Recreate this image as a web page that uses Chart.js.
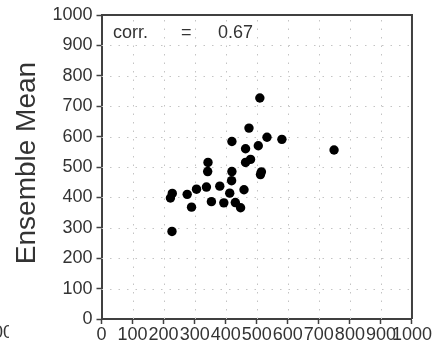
<!DOCTYPE html>
<html>
<head>
<meta charset="utf-8">
<script src="https://cdn.jsdelivr.net/npm/chart.js@4/dist/chart.umd.min.js"></script>
<style>
  html, body { margin: 0; padding: 0; background: #fff; }
  #wrap { width: 432px; height: 341px; position: relative; }
</style>
</head>
<body>
<div id="wrap"><canvas id="c" width="432" height="341"></canvas></div>
<script>
// Observed values (x) against ensemble-mean values (y)
const observed = [227, 222, 228, 276, 290, 306, 338, 342, 343, 354,
                  381, 394, 413, 419, 420, 420, 431, 448, 459, 464,
                  464, 475, 480, 505, 510, 512, 515, 533, 581, 749];
const ensembleMean = [288, 398, 413, 410, 368, 427, 434, 485, 515, 386,
                      437, 382, 414, 455, 485, 584, 383, 366, 425, 515,
                      560, 628, 525, 570, 727, 475, 484, 598, 591, 556];
const tickValues = [0, 100, 200, 300, 400, 500, 600, 700, 800, 900, 1000];
const tickLabels = ['0', '100', '200', '300', '400', '500', '600', '700', '800', '900', '1000'];
const corrLabel = ['corr.', '=', '0.67'];
const yTitle = 'Ensemble Mean';

const points = observed.map((x, i) => ({ x: x, y: ensembleMean[i] }));
const FONT = '"Liberation Sans", Arial, sans-serif';
const AXIS_COLOR = '#404040';
const TEXT_COLOR = '#333333';
const labelFor = v => { const i = tickValues.indexOf(v); return i >= 0 ? tickLabels[i] : ''; };

// Dotted grid, frame, correlation note and axis title
const decorations = {
  id: 'decorations',
  beforeDatasetsDraw(chart) {
    const { ctx, chartArea: a, scales: { x, y } } = chart;
    ctx.save();
    ctx.strokeStyle = '#c4c4c4';
    ctx.lineWidth = 1;
    ctx.setLineDash([1.5, 7]);
    tickValues.forEach(v => {
      const px = Math.round(x.getPixelForValue(v)) + 0.5;
      const py = Math.round(y.getPixelForValue(v)) + 0.5;
      if (v > 0 && v < 1000) {
        ctx.beginPath(); ctx.moveTo(px, a.bottom); ctx.lineTo(px, a.top); ctx.stroke();
        ctx.beginPath(); ctx.moveTo(a.left, py); ctx.lineTo(a.right, py); ctx.stroke();
      }
    });
    ctx.restore();
  },
  afterDraw(chart) {
    const { ctx, chartArea: a } = chart;
    ctx.save();
    // top and right sides of the frame
    ctx.strokeStyle = AXIS_COLOR;
    ctx.lineWidth = 2;
    ctx.beginPath();
    ctx.moveTo(a.left, a.top);
    ctx.lineTo(a.right, a.top);
    ctx.lineTo(a.right, a.bottom);
    ctx.stroke();

    // correlation note
    ctx.fillStyle = TEXT_COLOR;
    ctx.font = '18px ' + FONT;
    ctx.textBaseline = 'alphabetic';
    ctx.textAlign = 'left';
    ctx.fillText(corrLabel[0], 113, 38);
    ctx.fillText(corrLabel[1], 181, 38);
    ctx.fillText(corrLabel[2], 218, 38);

    // y axis title
    ctx.font = '28px ' + FONT;
    ctx.textAlign = 'center';
    ctx.textBaseline = 'middle';
    ctx.translate(27, 163);
    ctx.rotate(-Math.PI / 2);
    ctx.fillText(yTitle, 0, 0);
    ctx.restore();

    // tick label of the neighbouring panel, cut off at the left edge
    ctx.save();
    ctx.beginPath();
    ctx.rect(0, 300, 9, 41);
    ctx.clip();
    ctx.fillStyle = TEXT_COLOR;
    ctx.font = '18px ' + FONT;
    ctx.textAlign = 'right';
    ctx.textBaseline = 'middle';
    ctx.fillText(tickLabels[tickLabels.length - 1], 13, 333.5);
    ctx.restore();
  }
};

new Chart(document.getElementById('c'), {
  type: 'scatter',
  data: {
    datasets: [{
      data: points,
      backgroundColor: '#000',
      borderColor: '#000',
      pointRadius: 4.7,
      pointHoverRadius: 4.7,
      borderWidth: 0
    }]
  },
  options: {
    responsive: false,
    animation: false,
    devicePixelRatio: 1,
    events: [],
    layout: { padding: { top: 15, right: 19.5, left: 0, bottom: 0 } },
    plugins: { legend: { display: false }, tooltip: { enabled: false } },
    scales: {
      x: {
        type: 'linear', min: 0, max: 1000,
        afterBuildTicks: s => { s.ticks = tickValues.map(v => ({ value: v })); },
        afterFit: s => { s.height = 22; },
        grid: { drawOnChartArea: false, drawTicks: true, tickLength: 5, tickColor: AXIS_COLOR, tickWidth: 1.5 },
        border: { display: true, color: AXIS_COLOR, width: 2 },
        ticks: { color: TEXT_COLOR, font: { family: FONT, size: 18 }, padding: 0, maxRotation: 0, autoSkip: false,
                 callback: v => labelFor(v) }
      },
      y: {
        type: 'linear', min: 0, max: 1000,
        afterBuildTicks: s => { s.ticks = tickValues.map(v => ({ value: v })); },
        afterFit: s => { s.width = 101.5; },
        grid: { drawOnChartArea: false, drawTicks: true, tickLength: 5, tickColor: AXIS_COLOR, tickWidth: 1.5 },
        border: { display: true, color: AXIS_COLOR, width: 2 },
        ticks: { color: TEXT_COLOR, font: { family: FONT, size: 18 }, padding: 4, autoSkip: false,
                 callback: v => labelFor(v) }
      }
    }
  },
  plugins: [decorations]
});
</script>
</body>
</html>
